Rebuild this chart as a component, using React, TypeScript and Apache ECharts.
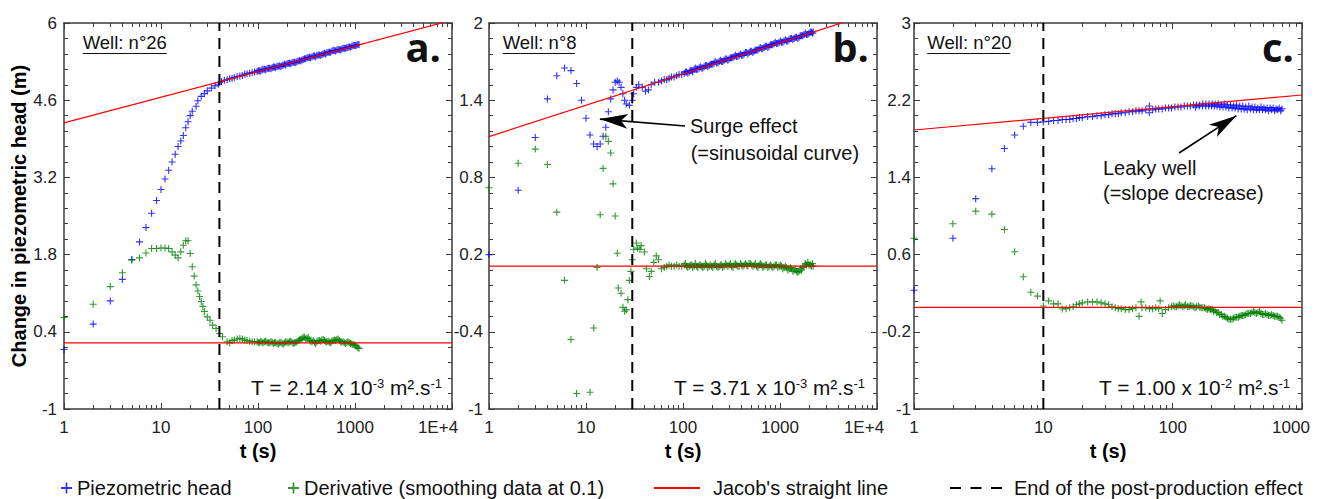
import { useEffect, useRef } from 'react';
import * as echarts from 'echarts';

type P = [number, number];

// ---------------- axis ticks / labels ----------------
const yTicksA = [-1, 0.4, 1.8, 3.2, 4.6, 6];
const yTicksB = [-1, -0.4, 0.2, 0.8, 1.4, 2];
const yTicksC = [-1, -0.2, 0.6, 1.4, 2.2, 3];
const xMaxA = 10000;
const xMaxB = 10000;
const xMaxC = 1000;

// ---------------- texts ----------------
const wellLabels = ['Well: n°26', 'Well: n°8', 'Well: n°20'];
const panelLetters = ['a.', 'b.', 'c.'];
const tMantissa = ['2.14', '3.71', '1.00'];
const tExponent = ['-3', '-3', '-2'];
const surgeText = ['Surge effect', '(=sinusoidal curve)'];
const leakyText = ['Leaky well', '(=slope decrease)'];
const seriesNames = ['Piezometric head', 'Derivative (smoothing data at 0.1)', "Jacob's straight line", 'End of the post-production effect'];

// ---------------- panel a : well n°26 ----------------
const headA: P[] = [
  [1, 0.08], [2, 0.54], [3, 0.96], [4, 1.35], [5, 1.71], [6, 2.03], [7, 2.29], [8, 2.55], [9, 2.78], [10, 2.98],
  [11, 3.17], [12, 3.33], [13, 3.48], [14, 3.62], [15, 3.76], [16, 3.86], [17, 3.96], [18, 4.10], [19, 4.21], [20, 4.32],
  [21, 4.40], [23, 4.49], [24, 4.59], [26, 4.67], [28, 4.72], [30, 4.77], [33, 4.82], [36, 4.86], [39, 4.89],
  [40, 4.92], [42, 4.94], [45, 4.96], [48, 4.97], [51, 4.99], [54, 5.00], [57, 5.01], [61, 5.03], [65, 5.04], [69, 5.05],
  [73, 5.07], [77, 5.08], [82, 5.09], [87, 5.10], [92, 5.11], [98, 5.12], [104, 5.13], [110, 5.15], [117, 5.16], [124, 5.17],
  [132, 5.18], [140, 5.19], [148, 5.20], [157, 5.21], [167, 5.22], [177, 5.23], [188, 5.25], [199, 5.26], [211, 5.27], [224, 5.28],
  [238, 5.29], [252, 5.30], [268, 5.32], [284, 5.33], [301, 5.35], [320, 5.37], [339, 5.38], [360, 5.39], [382, 5.40], [405, 5.41],
  [430, 5.42], [456, 5.43], [484, 5.45], [513, 5.46], [545, 5.47], [578, 5.49], [613, 5.50], [650, 5.51], [690, 5.52], [732, 5.53],
  [777, 5.54], [824, 5.55], [874, 5.57], [928, 5.58], [984, 5.59], [1044, 5.60], [1100, 5.61],
];
const headDenseA: P[] = [
  [101, 5.14], [107, 5.13], [113, 5.16], [120, 5.15], [128, 5.18], [136, 5.17], [144, 5.20], [152, 5.19], [162, 5.22], [172, 5.21],
  [182, 5.24], [193, 5.24], [205, 5.27], [217, 5.26], [231, 5.29], [245, 5.28], [260, 5.31], [276, 5.31], [292, 5.34], [310, 5.35],
  [329, 5.37], [349, 5.37], [371, 5.40], [393, 5.39], [417, 5.42], [443, 5.41], [470, 5.44], [498, 5.44], [529, 5.47], [561, 5.47],
  [595, 5.50], [631, 5.49], [670, 5.52], [711, 5.51], [754, 5.54], [800, 5.54], [849, 5.56], [901, 5.56], [956, 5.59], [1014, 5.59],
  [1072, 5.61],
];
const derivA: P[] = [
  [1, 0.66], [2, 0.90], [3, 1.22], [4, 1.47], [5, 1.70], [6, 1.74], [7, 1.83], [8, 1.91], [9, 1.91], [10, 1.92],
  [11, 1.92], [12, 1.91], [13, 1.85], [14, 1.79], [15, 1.74], [16, 1.85], [17, 1.97], [18, 2.05], [19, 2.05], [20, 1.82],
  [21, 1.58], [22, 1.41], [23, 1.25], [24, 1.14], [25, 1.04], [26, 0.95], [27, 0.86], [28, 0.77], [30, 0.67], [32, 0.61],
  [34, 0.52], [37, 0.46], [40, 0.37], [43, 0.31],
  [48, 0.22], [51, 0.20], [54, 0.24], [57, 0.25], [61, 0.27], [65, 0.28], [69, 0.27], [73, 0.25], [77, 0.24], [82, 0.23],
  [87, 0.22], [92, 0.22], [98, 0.22], [104, 0.21], [110, 0.21], [117, 0.22], [124, 0.21], [132, 0.20], [140, 0.21], [148, 0.20],
  [157, 0.19], [167, 0.20], [177, 0.19], [188, 0.20], [199, 0.21], [211, 0.22], [224, 0.21], [238, 0.20], [252, 0.22], [268, 0.25],
  [284, 0.28], [301, 0.30], [320, 0.28], [339, 0.25], [360, 0.22], [382, 0.21], [405, 0.22], [430, 0.24], [456, 0.25], [484, 0.24],
  [513, 0.22], [545, 0.21], [578, 0.23], [613, 0.25], [650, 0.26], [690, 0.24], [732, 0.21], [777, 0.20], [824, 0.21], [874, 0.20],
  [928, 0.18], [984, 0.16], [1044, 0.13], [1100, 0.10],
];
const derivDenseA: P[] = [
  [101, 0.20], [107, 0.23], [113, 0.20], [120, 0.23], [128, 0.20], [136, 0.22], [144, 0.19], [152, 0.21], [162, 0.18], [172, 0.21],
  [182, 0.18], [193, 0.22], [205, 0.20], [217, 0.23], [231, 0.19], [245, 0.21], [260, 0.24], [276, 0.26], [292, 0.30], [310, 0.27],
  [329, 0.30], [349, 0.23], [371, 0.24], [393, 0.19], [417, 0.24], [443, 0.23], [470, 0.26], [498, 0.22], [529, 0.23], [561, 0.20],
  [595, 0.24], [631, 0.24], [670, 0.27], [711, 0.22], [754, 0.22], [800, 0.19], [849, 0.22], [901, 0.19], [956, 0.17], [1014, 0.15],
  [1072, 0.11],
];
const jacobA: P[] = [[1, 4.19], [10000, 6.05]];
const jacobDerivA: P[] = [[1, 0.2], [10000, 0.2]];
const endPostA: P[] = [[40, -1], [40, 6]];

// ---------------- panel b : well n°8 ----------------
const headB: P[] = [
  [1, 0.20], [2, 0.70], [3, 1.11], [4, 1.41], [5, 1.59], [6, 1.65], [7, 1.63], [8, 1.53], [9, 1.40], [10, 1.26],
  [11, 1.13], [12, 1.06], [13, 1.04], [14, 1.06], [15, 1.12], [16, 1.19], [17, 1.31], [18, 1.41], [19, 1.48], [20, 1.54],
  [21, 1.55], [22, 1.54], [23, 1.50], [24, 1.45], [25, 1.40], [26, 1.37], [28, 1.36], [30, 1.40], [31, 1.45], [33, 1.50],
  [35, 1.52], [38, 1.50], [41, 1.47], [44, 1.48], [47, 1.52], [51, 1.54], [56, 1.54],
  [60, 1.55], [64, 1.56], [68, 1.56], [72, 1.57], [76, 1.58], [81, 1.58], [86, 1.59], [91, 1.60], [97, 1.60], [103, 1.61],
  [109, 1.62], [116, 1.62], [123, 1.63], [130, 1.64], [138, 1.64], [147, 1.65], [156, 1.65], [165, 1.66], [175, 1.67], [186, 1.67],
  [197, 1.68], [209, 1.69], [222, 1.69], [236, 1.70], [250, 1.70], [265, 1.71], [282, 1.72], [299, 1.72], [317, 1.73], [337, 1.74],
  [357, 1.74], [379, 1.75], [402, 1.75], [427, 1.76], [453, 1.77], [480, 1.77], [510, 1.78], [541, 1.78], [574, 1.79], [609, 1.80],
  [646, 1.80], [686, 1.81], [728, 1.82], [772, 1.82], [819, 1.83], [869, 1.84], [922, 1.84], [979, 1.85], [1038, 1.85], [1102, 1.86],
  [1169, 1.86], [1240, 1.87], [1316, 1.88], [1396, 1.88], [1481, 1.89], [1572, 1.89], [1668, 1.90], [1770, 1.91], [1878, 1.91], [1992, 1.92],
  [2114, 1.93], [2200, 1.93],
];
const headDenseB: P[] = [
  [106, 1.62], [112, 1.61], [119, 1.63], [126, 1.62], [134, 1.65], [142, 1.64], [151, 1.66], [160, 1.65], [170, 1.67], [180, 1.66],
  [191, 1.68], [203, 1.68], [215, 1.70], [229, 1.69], [243, 1.71], [257, 1.70], [273, 1.72], [290, 1.71], [308, 1.73], [327, 1.73],
  [347, 1.75], [368, 1.74], [390, 1.76], [414, 1.75], [440, 1.77], [466, 1.76], [495, 1.78], [525, 1.77], [557, 1.79], [591, 1.79],
  [627, 1.81], [666, 1.80], [707, 1.82], [750, 1.81], [795, 1.83], [844, 1.83], [895, 1.85], [950, 1.84], [1008, 1.86], [1070, 1.85],
  [1135, 1.87], [1204, 1.86], [1278, 1.88], [1356, 1.87], [1438, 1.89], [1526, 1.88], [1620, 1.90], [1719, 1.90], [1824, 1.92], [1935, 1.91],
  [2053, 1.93], [2160, 1.92],
];
const derivB: P[] = [
  [1, 0.72], [2, 0.91], [3, 1.02], [4, 0.90], [5, 0.53], [6, 0.00], [7, -0.46], [8, -0.88], [11, -0.87], [12, -0.37],
  [13, 0.10], [14, 0.51], [15, 0.87], [16, 1.12], [17, 1.08], [18, 0.99], [19, 0.75], [20, 0.50], [21, 0.21], [21.5, -0.06],
  [23, -0.10], [24, -0.21], [25, -0.24], [26, -0.23], [27, -0.15], [28, 0.00], [29, 0.07], [30, 0.16], [31, 0.24], [33, 0.29],
  [34, 0.25], [36, 0.24], [37, 0.27], [40, 0.22], [42, 0.09], [45, 0.03], [47, 0.07], [50, 0.14], [53, 0.19], [56, 0.16],
  [60, 0.09],
  [64, 0.10], [68, 0.11], [72, 0.12], [76, 0.11], [81, 0.11], [86, 0.12], [91, 0.11], [97, 0.11], [103, 0.12], [109, 0.11],
  [116, 0.11], [123, 0.12], [130, 0.11], [138, 0.11], [147, 0.12], [156, 0.11], [165, 0.11], [175, 0.12], [186, 0.11], [197, 0.11],
  [209, 0.12], [222, 0.11], [236, 0.11], [250, 0.12], [265, 0.11], [282, 0.12], [299, 0.12], [317, 0.11], [337, 0.12], [357, 0.12],
  [379, 0.11], [402, 0.12], [427, 0.12], [453, 0.12], [480, 0.13], [510, 0.12], [541, 0.12], [574, 0.11], [609, 0.12], [646, 0.12],
  [686, 0.11], [728, 0.12], [772, 0.11], [819, 0.11], [869, 0.11], [922, 0.12], [979, 0.11], [1038, 0.11], [1102, 0.10], [1169, 0.10],
  [1240, 0.09], [1316, 0.09], [1396, 0.08], [1481, 0.07], [1572, 0.07], [1668, 0.08], [1770, 0.11], [1878, 0.12], [1992, 0.12], [2114, 0.11],
  [2200, 0.11],
];
const derivDenseB: P[] = [
  [106, 0.13], [112, 0.10], [119, 0.12], [126, 0.10], [134, 0.13], [142, 0.10], [151, 0.12], [160, 0.10], [170, 0.13], [180, 0.10],
  [191, 0.12], [203, 0.10], [215, 0.13], [229, 0.10], [243, 0.12], [257, 0.10], [273, 0.13], [290, 0.11], [308, 0.13], [327, 0.10],
  [347, 0.13], [368, 0.11], [390, 0.13], [414, 0.11], [440, 0.13], [466, 0.11], [495, 0.13], [525, 0.11], [557, 0.13], [591, 0.10],
  [627, 0.13], [666, 0.10], [707, 0.12], [750, 0.10], [795, 0.12], [844, 0.10], [895, 0.12], [950, 0.10], [1008, 0.12], [1070, 0.09],
  [1135, 0.11], [1204, 0.08], [1278, 0.10], [1356, 0.07], [1438, 0.09], [1526, 0.06], [1620, 0.09], [1719, 0.10], [1824, 0.13], [1935, 0.14],
  [2053, 0.12], [2160, 0.13],
];
const jacobB: P[] = [[1, 1.117], [10000, 2.089]];
const jacobDerivB: P[] = [[1, 0.11], [10000, 0.11]];
const endPostB: P[] = [[30, -1], [30, 2]];
const arrowB: P[] = [[105, 1.2], [13.9, 1.253]];

// ---------------- panel c : well n°20 ----------------
const headC: P[] = [
  [1, 0.23], [2, 0.77], [3, 1.18], [4, 1.49], [5, 1.70], [6, 1.84], [7, 1.93], [8, 1.97], [9, 1.97],
  [10, 1.975], [11, 1.98], [12, 1.99], [13, 1.99], [14, 2.00], [15, 2.00], [16, 2.00], [17, 2.01], [18, 2.01], [19, 2.02],
  [20, 2.02], [22, 2.03], [24, 2.03], [26, 2.04], [28, 2.04], [30, 2.05], [32, 2.05], [34, 2.06], [36, 2.06], [38, 2.06],
  [40, 2.07], [43, 2.07], [46, 2.08], [49, 2.08], [52, 2.09], [55, 2.09], [58, 2.09], [62, 2.10], [66, 2.14], [66, 2.07],
  [70, 2.10], [74, 2.11], [78, 2.11], [83, 2.11], [88, 2.12], [93, 2.12], [98, 2.12], [104, 2.13], [110, 2.13], [116, 2.13],
  [123, 2.14], [130, 2.14], [137, 2.14], [145, 2.15], [153, 2.15], [162, 2.15], [171, 2.16], [181, 2.16], [191, 2.16], [202, 2.16],
  [213, 2.16], [225, 2.16], [238, 2.15], [251, 2.16], [265, 2.15], [280, 2.15], [296, 2.14], [312, 2.15], [330, 2.14], [348, 2.14],
  [367, 2.13], [388, 2.14], [410, 2.13], [432, 2.13], [456, 2.12], [482, 2.13], [508, 2.12], [537, 2.12], [566, 2.12], [598, 2.12],
  [631, 2.11], [666, 2.12], [700, 2.11],
];
const headDenseC: P[] = [
  [150, 2.13], [160, 2.14], [170, 2.14], [180, 2.14], [190, 2.14], [200, 2.14], [210, 2.14], [220, 2.14], [232, 2.13], [245, 2.13],
  [258, 2.13], [272, 2.12], [288, 2.12], [304, 2.12], [321, 2.11], [339, 2.11], [357, 2.11], [377, 2.10], [399, 2.11], [421, 2.10],
  [444, 2.10], [469, 2.10], [495, 2.10], [522, 2.10], [551, 2.09], [582, 2.10], [614, 2.09], [648, 2.10], [684, 2.09],
];
const derivC: P[] = [
  [1, 0.77], [2, 0.92], [3, 1.05], [4, 1.02], [5, 0.86], [6, 0.63], [7, 0.37], [8, 0.21], [9, 0.17],
  [10, 0.067], [11, 0.12], [12, 0.09], [13, 0.09], [14, 0.036], [15, 0.04], [16, 0.05], [17, 0.06], [18, 0.08], [19, 0.09],
  [20, 0.10], [22, 0.11], [24, 0.11], [26, 0.11], [28, 0.10], [30, 0.09], [32, 0.08], [34, 0.06], [36, 0.05], [38, 0.04],
  [40, 0.04], [43, 0.03], [46, 0.03], [49, 0.04], [52, 0.05], [55, -0.04], [57, 0.11], [58, 0.05], [62, 0.05], [66, 0.04],
  [70, 0.04], [74, 0.05], [78, 0.04], [80, 0.12], [83, -0.01], [88, 0.03], [93, 0.05], [98, 0.06], [104, 0.06], [110, 0.07],
  [116, 0.07], [123, 0.07], [130, 0.06], [137, 0.07], [145, 0.06], [153, 0.06], [162, 0.055], [171, 0.05], [181, 0.04], [191, 0.04],
  [202, 0.03], [213, 0.02], [225, 0.0], [238, -0.02], [251, -0.04], [265, -0.06], [280, -0.07], [296, -0.06], [312, -0.05], [330, -0.04],
  [348, -0.03], [367, -0.02], [388, -0.01], [410, 0.0], [432, 0.0], [456, 0.0], [482, -0.01], [508, -0.02], [537, -0.02], [566, -0.03],
  [598, -0.03], [631, -0.04], [666, -0.05], [700, -0.08],
];
const derivDenseC: P[] = [
  [101, 0.07], [107, 0.06], [113, 0.08], [120, 0.06], [126, 0.08], [134, 0.06], [141, 0.07], [149, 0.05], [158, 0.07], [166, 0.05],
  [176, 0.05], [186, 0.03], [196, 0.03], [207, 0.01], [219, 0.0], [231, -0.02], [244, -0.04], [258, -0.05], [272, -0.07], [288, -0.07],
  [304, -0.05], [321, -0.05], [339, -0.03], [357, -0.03], [377, -0.01], [399, -0.01], [421, 0.01], [444, -0.01], [469, 0.01], [495, -0.02],
  [522, -0.01], [551, -0.03], [582, -0.02], [614, -0.04], [648, -0.04], [684, -0.06],
];
const jacobC: P[] = [[1, 1.891], [1000, 2.254]];
const jacobDerivC: P[] = [[1, 0.054], [1000, 0.054]];
const endPostC: P[] = [[10, -1], [10, 3]];
const arrowC: P[] = [[112, 1.653], [311, 2.04]];

// ---------------- styling ----------------
const FONT = 'Liberation Sans';
const FRAME = '#3a3a3a';
const BLUE = '#0000ff';
const GREEN = '#008000';
const RED = '#ff0000';
const PLUS = 'path://M4.2,0H5.8V4.2H10V5.8H5.8V10H4.2V5.8H0V4.2H4.2Z';

const GRID_LEFT = [64, 489, 914];
const GRID_TOP = 23;
const GRID_W = 388;
const GRID_H = 386;

const panels = [
  { head: headA.concat(headDenseA), deriv: derivA.concat(derivDenseA), jacob: jacobA, jacobDeriv: jacobDerivA, endPost: endPostA, yTicks: yTicksA, xMax: xMaxA, arrow: null as P[] | null, lastPad: 28, yMargin: 7 },
  { head: headB.concat(headDenseB), deriv: derivB.concat(derivDenseB), jacob: jacobB, jacobDeriv: jacobDerivB, endPost: endPostB, yTicks: yTicksB, xMax: xMaxB, arrow: arrowB, lastPad: 26, yMargin: 6 },
  { head: headC.concat(headDenseC), deriv: derivC.concat(derivDenseC), jacob: jacobC, jacobDeriv: jacobDerivC, endPost: endPostC, yTicks: yTicksC, xMax: xMaxC, arrow: arrowC, lastPad: 22, yMargin: 3 },
];

function minorsOf(ticks: number[]): number[] {
  const out: number[] = [];
  for (let i = 0; i < ticks.length - 1; i++) {
    const step = (ticks[i + 1] - ticks[i]) / 5;
    for (let k = 1; k < 5; k++) out.push(Math.round((ticks[i] + k * step) * 10000) / 10000);
  }
  return out;
}

function buildOption() {
  const grid: any[] = [];
  const xAxis: any[] = [];
  const yAxis: any[] = [];
  const series: any[] = [];
  const graphic: any[] = [];

  panels.forEach((p, gi) => {
    grid.push({ left: GRID_LEFT[gi], top: GRID_TOP, width: GRID_W, height: GRID_H, containLabel: false, outerBoundsMode: 'none' });
    const xMax = p.xMax;
    const lineStyle = { color: FRAME, width: 1.5 };
    const tickStyle = { color: FRAME, width: 1 };
    const xBase = {
      type: 'log', logBase: 10, gridIndex: gi, min: 1, max: xMax,
      axisLine: { show: true, onZero: false, lineStyle },
      axisTick: { show: true, inside: true, length: 6, lineStyle: tickStyle },
      minorTick: { show: true, splitNumber: 9, length: 4, lineStyle: tickStyle },
      splitLine: { show: false }, minorSplitLine: { show: false },
    };
    xAxis.push({
      ...xBase, position: 'bottom',
      axisLabel: {
        show: true, margin: 10, fontSize: 17, fontFamily: FONT, color: '#222',
        formatter: (v: number) => {
          const r = Math.round(v);
          const s = r >= 10000 ? '1E+4' : String(r);
          return r === xMax ? `{last|${s}}` : s;
        },
        rich: { last: { fontSize: 17, fontFamily: FONT, color: '#222', padding: [0, p.lastPad, 0, 0] } },
      },
      name: 't (s)', nameLocation: 'middle', nameGap: 29,
      nameTextStyle: { fontSize: 20, fontWeight: 'bold', fontFamily: FONT, color: '#000' },
    });
    xAxis.push({ ...xBase, position: 'top', axisLabel: { show: false } });

    const yMin = p.yTicks[0];
    const yMax = p.yTicks[p.yTicks.length - 1];
    const minors = minorsOf(p.yTicks);
    const yBase = { type: 'value', gridIndex: gi, min: yMin, max: yMax, splitLine: { show: false } };
    yAxis.push({
      ...yBase, position: 'left',
      axisLine: { show: true, onZero: false, lineStyle },
      axisTick: { show: true, inside: true, length: 6, lineStyle: tickStyle, customValues: p.yTicks },
      axisLabel: { show: true, customValues: p.yTicks, margin: p.yMargin, fontSize: 17, fontFamily: FONT, color: '#222', formatter: (v: number) => String(v) },
      ...(gi === 0 ? {
        name: 'Change in piezometric head (m)', nameLocation: 'middle', nameGap: 33,
        nameTextStyle: { fontSize: 20, fontWeight: 'bold', fontFamily: FONT, color: '#000' },
      } : {}),
    });
    yAxis.push({
      ...yBase, position: 'left',
      axisLine: { show: false, onZero: false },
      axisTick: { show: true, inside: true, length: 4, lineStyle: tickStyle, customValues: minors },
      axisLabel: { show: false },
    });
    yAxis.push({
      ...yBase, position: 'right',
      axisLine: { show: true, onZero: false, lineStyle },
      axisTick: { show: true, inside: true, length: 6, lineStyle: tickStyle, customValues: p.yTicks },
      axisLabel: { show: false },
    });
    yAxis.push({
      ...yBase, position: 'right',
      axisLine: { show: false, onZero: false },
      axisTick: { show: true, inside: true, length: 4, lineStyle: tickStyle, customValues: minors },
      axisLabel: { show: false },
    });

    const xi = gi * 2;
    const yi = gi * 4;
    series.push({
      type: 'scatter', name: seriesNames[0], xAxisIndex: xi, yAxisIndex: yi, data: p.head,
      symbol: PLUS, symbolSize: 7, itemStyle: { color: BLUE }, z: 2, silent: true,
    });
    series.push({
      type: 'scatter', name: seriesNames[1], xAxisIndex: xi, yAxisIndex: yi, data: p.deriv,
      symbol: PLUS, symbolSize: 7, itemStyle: { color: GREEN }, z: 2, silent: true,
    });
    const jac: any = {
      type: 'line', name: seriesNames[2], xAxisIndex: xi, yAxisIndex: yi, data: p.jacob,
      symbol: 'none', showSymbol: false, clip: true, lineStyle: { color: RED, width: 1.2 }, itemStyle: { color: RED }, z: 3, silent: true,
    };
    if (p.arrow) {
      jac.markLine = {
        silent: true, animation: false, symbol: ['none', 'arrow'], symbolSize: [0, 20],
        label: { show: false }, emphasis: { disabled: true },
        lineStyle: { color: '#000', width: 1.6, type: 'solid' },
        itemStyle: { color: '#000' },
        data: [[{ coord: p.arrow[0] }, { coord: p.arrow[1], symbolSize: [11, 28] }]],
      };
    }
    series.push(jac);
    series.push({
      type: 'line', name: seriesNames[2], xAxisIndex: xi, yAxisIndex: yi, data: p.jacobDeriv,
      symbol: 'none', showSymbol: false, clip: true, lineStyle: { color: RED, width: 1.2 }, itemStyle: { color: RED }, z: 3, silent: true,
    });
    series.push({
      type: 'line', name: seriesNames[3], xAxisIndex: xi, yAxisIndex: yi, data: p.endPost,
      symbol: 'none', showSymbol: false, lineStyle: { color: '#000', width: 2, type: [11, 7] }, itemStyle: { color: '#000' }, z: 4, silent: true,
    });
  });

  // ---- inset texts ----
  const wellX = [82.7, 502.7, 927.3];
  const wellUnderEnd = [166.7, 575, 1010];
  const letterRight = [441, 869, 1294];
  const tRight = [442, 865, 1290];
  panels.forEach((_, gi) => {
    graphic.push({
      type: 'text', x: wellX[gi], y: 42.5, silent: true,
      style: { text: wellLabels[gi], font: `18.5px "${FONT}"`, fill: '#111', align: 'left', verticalAlign: 'middle', textAlign: 'left', textVerticalAlign: 'middle' },
    });
    graphic.push({
      type: 'line', silent: true,
      shape: { x1: wellX[gi], y1: 53.5, x2: wellUnderEnd[gi], y2: 53.5 },
      style: { stroke: '#111', lineWidth: 1.2 },
    });
    graphic.push({
      type: 'text', x: letterRight[gi], y: 46, silent: true,
      style: { text: panelLetters[gi], font: 'bold 40px "Open Sans"', fill: '#111', align: 'right', verticalAlign: 'middle', textAlign: 'right', textVerticalAlign: 'middle' },
    });
    graphic.push({
      type: 'text', x: tRight[gi], y: 387, silent: true,
      style: {
        text: `T = ${tMantissa[gi]} x 10{sup|${tExponent[gi]}} m².s{sup|-1}`,
        font: `20.8px "${FONT}"`, fill: '#111',
        rich: { sup: { fontSize: 13, fontFamily: FONT, fill: '#111', verticalAlign: 'top' } },
        align: 'right', verticalAlign: 'middle', textAlign: 'right', textVerticalAlign: 'middle',
      },
    });
  });
  const annot = [
    { x: 690, y: 126, t: surgeText[0] }, { x: 690.7, y: 153, t: surgeText[1] },
    { x: 1103, y: 168, t: leakyText[0] }, { x: 1103, y: 193, t: leakyText[1] },
  ];
  annot.forEach((a) => {
    graphic.push({
      type: 'text', x: a.x, y: a.y, silent: true,
      style: { text: a.t, font: `20px "${FONT}"`, fill: '#111', align: 'left', verticalAlign: 'middle', textAlign: 'left', textVerticalAlign: 'middle' },
    });
  });

  const legendBase = {
    top: 478, padding: 0, orient: 'horizontal', selectedMode: false,
    textStyle: { fontSize: 20, fontFamily: FONT, color: '#111' },
  };
  const legend = [
    { ...legendBase, left: 61, itemWidth: 11, itemHeight: 11, data: [{ name: seriesNames[0], icon: PLUS }] },
    { ...legendBase, left: 288, itemWidth: 11, itemHeight: 11, data: [{ name: seriesNames[1], icon: PLUS }] },
    {
      ...legendBase, left: 653, itemWidth: 46, itemHeight: 14, lineStyle: { width: 2 }, itemStyle: { opacity: 0 },
      textStyle: { ...legendBase.textStyle, padding: [0, 0, 0, 8] }, data: [{ name: seriesNames[2] }],
    },
    {
      ...legendBase, left: 949, itemWidth: 53, itemHeight: 14, lineStyle: { width: 2, type: [11, 9.5] }, itemStyle: { opacity: 0 },
      textStyle: { ...legendBase.textStyle, padding: [0, 0, 0, 6] }, data: [{ name: seriesNames[3] }],
    },
  ];

  return {
    animation: false,
    backgroundColor: '#ffffff',
    textStyle: { fontFamily: FONT },
    grid, xAxis, yAxis, series, graphic, legend,
  };
}

export default function App() {
  const ref = useRef<HTMLDivElement>(null);
  useEffect(() => {
    if (!ref.current) return;
    const chart = echarts.init(ref.current, null, { renderer: 'svg' });
    chart.setOption(buildOption() as any);
    return () => chart.dispose();
  }, []);
  return <div ref={ref} style={{ position: 'absolute', left: 0, top: 0, width: 1320, height: 499 }} />;
}
